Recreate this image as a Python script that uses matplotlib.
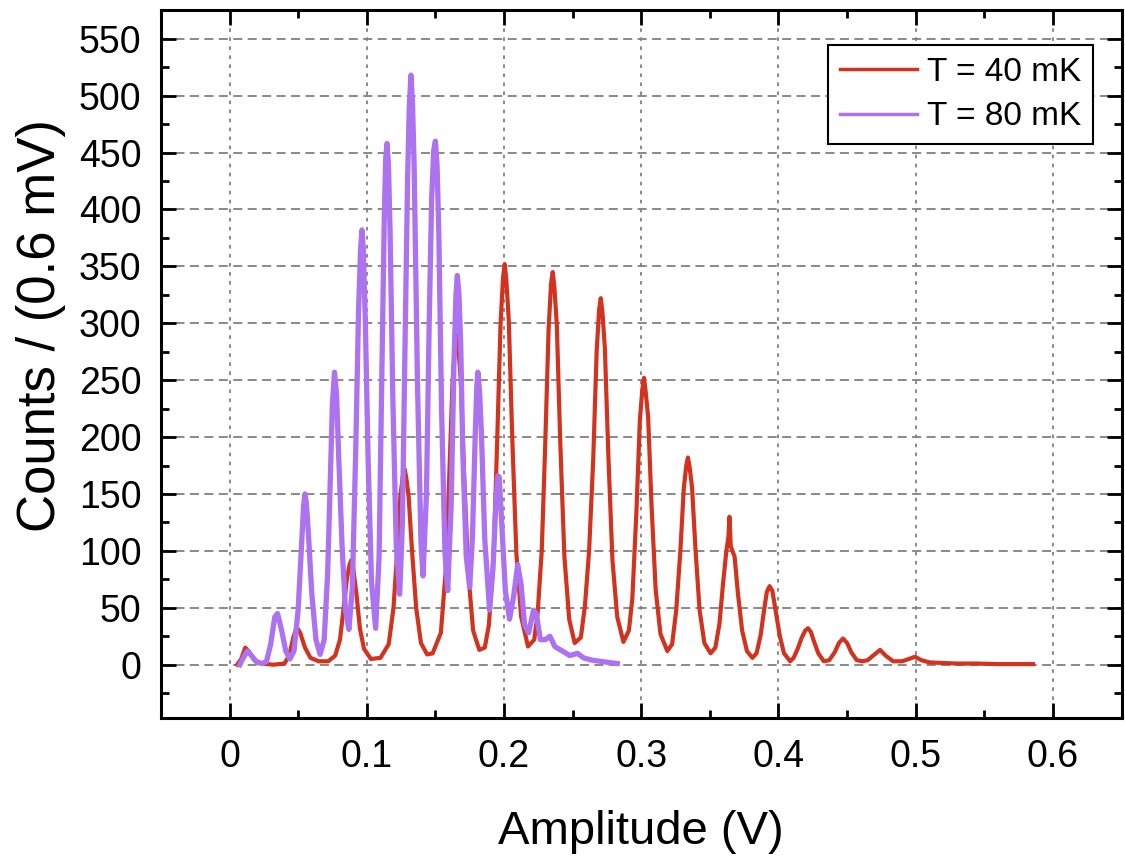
import matplotlib
matplotlib.use("Agg")
import matplotlib.pyplot as plt
from matplotlib.ticker import MultipleLocator

plt.rcParams['font.family'] = ['Liberation Sans', 'DejaVu Sans']

# Pulse-height spectrum at T = 40 mK (amplitude in V, counts per 0.6 mV bin)
amp_40mK = [
    0.0056, 0.0085, 0.0115, 0.0145, 0.018, 0.024, 0.032, 0.040, 0.0435, 0.0465,
    0.049, 0.0515, 0.055, 0.059, 0.065, 0.072,
    0.077, 0.0805, 0.083, 0.0855, 0.0875, 0.0888, 0.090, 0.0925, 0.095, 0.098, 0.103, 0.110,
    0.116, 0.1195, 0.122, 0.1245, 0.1263, 0.1275, 0.1287, 0.1305, 0.133, 0.136, 0.1395, 0.144,
    0.148, 0.154, 0.1575, 0.160, 0.1625, 0.1643, 0.1655, 0.1667, 0.1685, 0.171, 0.174, 0.1775, 0.182,
    0.186, 0.189, 0.1925, 0.195, 0.1975, 0.1993, 0.2005, 0.2017, 0.2035, 0.206, 0.209, 0.2125, 0.2175,
    0.222, 0.2245, 0.2275, 0.230, 0.2325, 0.2343, 0.2355, 0.2367, 0.2385, 0.241, 0.244, 0.2475, 0.2515,
    0.256, 0.259, 0.262, 0.265, 0.2675, 0.2693, 0.2705, 0.2717, 0.2735, 0.276, 0.279, 0.2825, 0.287,
    0.291, 0.2935, 0.2965, 0.299, 0.3008, 0.302, 0.3032, 0.305, 0.3075, 0.3105, 0.314, 0.319,
    0.3225, 0.3255, 0.3285, 0.331, 0.3328, 0.334, 0.3352, 0.337, 0.3395, 0.3425, 0.346, 0.3505,
    0.354, 0.357, 0.3595, 0.362, 0.3635, 0.3643, 0.3652, 0.368, 0.3705, 0.3735, 0.377, 0.381,
    0.384, 0.387, 0.3895, 0.3915, 0.3935, 0.3955, 0.398, 0.401, 0.404, 0.4085,
    0.411, 0.414, 0.417, 0.4195, 0.4215, 0.4235, 0.426, 0.429, 0.433,
    0.437, 0.441, 0.444, 0.447, 0.450, 0.453, 0.457, 0.461,
    0.465, 0.469, 0.474, 0.478, 0.4835,
    0.490, 0.495, 0.4995, 0.504, 0.510, 0.520, 0.530, 0.545, 0.560, 0.5855,
]
counts_40mK = [
    0, 5, 15, 11, 4, 1, 0, 1, 8, 24,
    33, 28, 15, 6, 3, 3,
    8, 22, 48, 75, 88, 92, 86, 62, 32, 14, 5, 6,
    18, 50, 96, 148, 166, 172, 165, 148, 100, 50, 19, 9,
    10, 28, 82, 162, 248, 282, 290, 280, 250, 165, 80, 30, 13,
    15, 35, 98, 195, 300, 340, 352, 338, 302, 200, 98, 42, 16,
    22, 45, 100, 192, 295, 335, 345, 332, 298, 195, 95, 40, 19,
    24, 52, 100, 180, 275, 312, 322, 310, 278, 185, 92, 42, 20,
    30, 58, 135, 215, 242, 252, 240, 218, 140, 66, 27, 12,
    18, 48, 100, 155, 175, 182, 174, 156, 102, 48, 19, 10,
    15, 36, 70, 100, 112, 130, 104, 95, 62, 30, 12, 6,
    10, 26, 48, 64, 69, 65, 47, 25, 10, 3,
    6, 14, 24, 30, 32, 29, 20, 10, 3,
    4, 11, 19, 23, 19, 11, 4, 3,
    4, 8, 13, 8, 3,
    3, 5, 7, 4, 2, 1.5, 1, 1, 0.5, 0.5,
]

# Pulse-height spectrum at T = 80 mK
amp_80mK = [
    0.0075, 0.010, 0.013, 0.016, 0.020, 0.024, 0.027, 0.030, 0.033, 0.035,
    0.038, 0.041, 0.044, 0.047,
    0.050, 0.0525, 0.054, 0.055, 0.056, 0.0575, 0.060, 0.063, 0.066,
    0.069, 0.0715, 0.0735, 0.075, 0.0765, 0.078, 0.0795, 0.082, 0.0845, 0.087,
    0.0895, 0.092, 0.0940, 0.0955, 0.0965, 0.0975, 0.099, 0.101, 0.1035, 0.1065,
    0.109, 0.111, 0.1128, 0.1138, 0.1148, 0.1158, 0.117, 0.119, 0.1215, 0.124,
    0.126, 0.128, 0.1298, 0.131, 0.1322, 0.1333, 0.1345, 0.137, 0.1395, 0.141,
    0.1435, 0.1455, 0.1473, 0.1488, 0.150, 0.1512, 0.1525, 0.1545, 0.157, 0.159,
    0.1615, 0.1635, 0.1650, 0.1660, 0.1672, 0.1685, 0.170, 0.1725, 0.175,
    0.177, 0.179, 0.1802, 0.181, 0.1822, 0.1835, 0.186, 0.1895,
    0.192, 0.194, 0.1955, 0.1965, 0.198, 0.201, 0.204,
    0.207, 0.210, 0.2125, 0.215, 0.218, 0.2215, 0.2235, 0.2265, 0.230, 0.2335,
    0.237, 0.2425, 0.248, 0.2535, 0.258, 0.264, 0.270, 0.276, 0.2825,
]
counts_80mK = [
    0, 6, 12, 8, 2, 1, 3, 18, 42, 45,
    30, 12, 5, 12,
    48, 105, 140, 150, 142, 115, 62, 22, 9,
    22, 80, 165, 230, 257, 238, 185, 105, 48, 31,
    68, 190, 310, 365, 382, 365, 300, 180, 72, 32,
    95, 255, 395, 445, 458, 440, 380, 235, 105, 62,
    125, 290, 430, 490, 518, 495, 440, 245, 108, 78,
    150, 300, 410, 452, 460, 440, 380, 225, 98, 65,
    140, 262, 325, 342, 325, 280, 185, 95, 68,
    112, 200, 245, 257, 240, 205, 110, 48,
    85, 140, 166, 165, 132, 65, 40,
    60, 88, 70, 35, 28, 48, 45, 22, 22, 25,
    16, 12, 8, 10, 6, 4, 3, 2, 1,
]

labels = ["T = 40 mK", "T = 80 mK"]
colors = ["#d2321e", "#ad72f0"]

fig = plt.figure(figsize=(11.25, 8.56), dpi=100)
ax = fig.add_axes([0.143, 0.161, 0.854, 0.827])

ax.plot(amp_40mK, counts_40mK, color=colors[0], lw=3.0, label=labels[0], zorder=3)
ax.plot(amp_80mK, counts_80mK, color=colors[1], lw=3.8, label=labels[1], zorder=4)

ax.set_xlim(-0.05, 0.65)
ax.set_ylim(-47, 575)
ax.xaxis.set_minor_locator(MultipleLocator(0.05))
ax.yaxis.set_minor_locator(MultipleLocator(25))
ax.set_xticks([0, 0.1, 0.2, 0.3, 0.4, 0.5, 0.6])
ax.set_xticklabels(["0", "0.1", "0.2", "0.3", "0.4", "0.5", "0.6"])
ax.set_yticks(range(0, 551, 50))

ax.tick_params(which='both', direction='in', top=True, right=True, width=2)
ax.tick_params(which='major', length=11, labelsize=27)
ax.tick_params(which='minor', length=6)
ax.tick_params(axis='x', which='major', pad=15)
ax.tick_params(axis='y', which='major', pad=14)

for s in ax.spines.values():
    s.set_linewidth(2.2)

ax.yaxis.grid(True, linestyle=(0, (5, 3)), color='#808080', lw=1.3)
ax.xaxis.grid(True, linestyle=(0, (2, 3)), color='#808080', lw=1.3)
ax.set_axisbelow(True)

ax.set_xlabel("Amplitude (V)", fontsize=34, labelpad=25)
ax.set_ylabel("Counts / (0.6 mV)", fontsize=38)
ax.yaxis.set_label_coords(-0.099, 0.555)

leg = ax.legend(loc='upper right', fontsize=24, frameon=True, fancybox=False,
                edgecolor='black', framealpha=1, borderpad=0.35, borderaxespad=0,
                handlelength=2.3, handletextpad=0.3, labelspacing=0.4,
                bbox_to_anchor=(0.9698, 0.9506))
leg.get_frame().set_linewidth(1.5)
for line in leg.get_lines():
    line.set_linewidth(2.5)

fig.savefig("out.png", dpi=100)
